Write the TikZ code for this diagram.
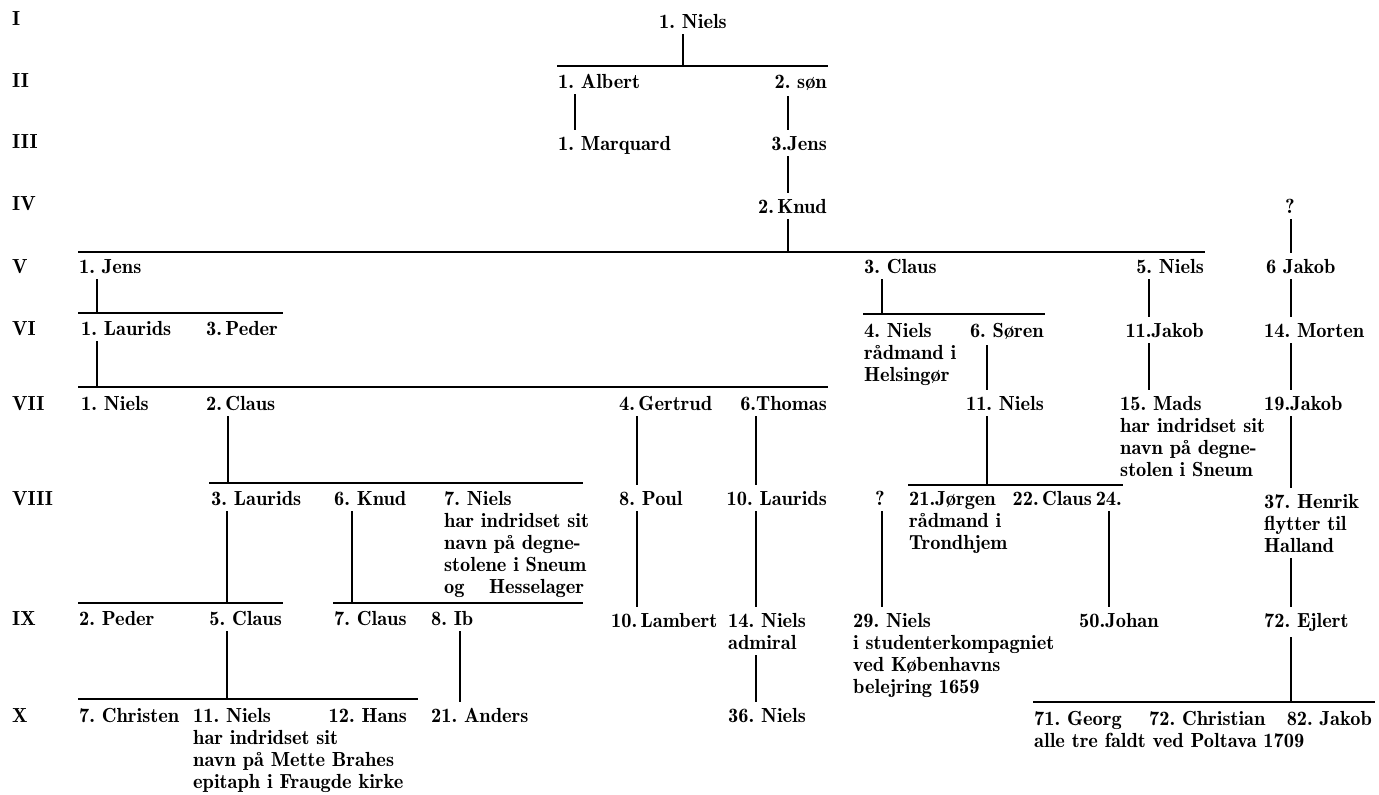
\documentclass[tikz,border=0pt]{standalone}
\usepackage{fontspec}
\setmainfont{lmromandemi10-regular.otf}
\newcommand\stack[1]{\vtop{\halign{##\hfil\cr#1\crcr}}}
\frenchspacing
\begin{document}
\begin{tikzpicture}[x=0.5pt,y=-0.5pt,line width=1.2pt,
		person/.style={anchor=base west,inner sep=0pt,outer ysep=3pt,font=\fontsize{10.2}{11}\selectfont},
		rperson/.style={person,anchor=base east},
		cperson/.style={person,anchor=base}]
		\useasboundingbox (0,0) rectangle (1379,794);
		\foreach \g/\y in {I/25,II/87,III/148,IV/210,V/273,VI/335,VII/410,VIII/505,IX/625,X/722}
			\node [person] (g\g) at (11,\y) {\g};
		\node [person] (niels1) at (658,28) {1. Niels};
		\node [person] (albert) at (557,88) {1. Albert};
		\node [rperson] (son) at (828,88) {2. søn};
		\node [person] (marquard) at (557,150) {1. Marquard};
		\node [rperson] (jens3) at (828,150) {3.Jens};
		\node [rperson] (knud2) at (828,213) {2.\,Knud};
		\node [cperson] (qa) at (1290,213) {?};
		\node [person] (jens1) at (78,273) {1. Jens};
		\node [person] (claus3) at (863,273) {3. Claus};
		\node [rperson] (niels5) at (1205,273) {5. Niels};
		\node [person] (jakob6) at (1265,273) {6 Jakob};
		\node [person] (laurids1) at (80,335) {1. Laurids};
		\node [person] (peder3) at (205,335) {3.\,Peder};
		\node [person] (niels4) at (863,337) {\stack{4. Niels\cr rådmand i\cr Helsingør}};
		\node [rperson] (soren6) at (1045,337) {6. Søren};
		\node [rperson] (jakob11) at (1205,337) {11.Jakob};
		\node [person] (morten14) at (1263,337) {14. Morten};
		\node [person] (niels1b) at (80,410) {1. Niels};
		\node [person] (claus2) at (205,410) {2.\,Claus};
		\node [person] (gertrud4) at (618,410) {4.\,Gertrud};
		\node [rperson] (thomas6) at (828,410) {6.Thomas};
		\node [rperson] (niels11) at (1045,410) {11. Niels};
		\node [person] (mads15) at (1119,410) {\stack{15. Mads\cr har indridset sit\cr navn på degne-\cr stolen i Sneum}};
		\node [person] (jakob19) at (1263,410) {19.Jakob};
		\node [person] (laurids3) at (210,505) {3. Laurids};
		\node [person] (knud6) at (333,505) {6. Knud};
		\node [person] (niels7) at (443,505) {\stack{7. Niels\cr har indridset sit\cr navn på degne-\cr stolene i Sneum\cr \makebox[70pt][l]{og\hfill Hesselager}}};
		\node [person] (poul8) at (618,505) {8. Poul};
		\node [rperson] (laurids10) at (828,505) {10. Laurids};
		\node [cperson] (qb) at (880,505) {?};
		\node [person] (jorgen21) at (908,505) {\stack{21.Jørgen\cr rådmand i\cr Trondhjem}};
		\node [rperson] (claus22) at (1093,505) {22.\,Claus};
		\node [rperson] (n24) at (1123,505) {24.};
		\node [person] (henrik37) at (1263,508) {\stack{37. Henrik\cr flytter til\cr Halland}};
		\node [person] (peder2) at (78,625) {2. Peder};
		\node [rperson] (claus5) at (283,625) {5. Claus};
		\node [person] (claus7) at (333,625) {7. Claus};
		\node [person] (ib8) at (430,625) {8. Ib};
		\node [person] (lambert10) at (610,627) {10.\,Lambert};
		\node [person] (niels14) at (727,627) {\stack{14. Niels\cr admiral}};
		\node [person] (niels29) at (852,627) {\stack{29. Niels\cr i studenterkompagniet\cr ved Københavns\cr belejring 1659}};
		\node [person] (johan50) at (1078,627) {50.Johan};
		\node [person] (ejlert72) at (1263,627) {72. Ejlert};
		\node [person] (christen7) at (78,722) {7. Christen};
		\node [person] (niels11b) at (192,722) {\stack{11. Niels\cr har indridset sit\cr navn på Mette Brahes\cr epitaph i Fraugde kirke}};
		\node [rperson] (hans12) at (408,722) {12. Hans};
		\node [person] (anders21) at (430,722) {21. Anders};
		\node [person] (niels36) at (727,722) {36. Niels};
		\node [person] (georg71) at (1033,725) {71. Georg};
		\node [person] (christian72) at (1148,725) {72. Christian};
		\node [rperson] (jakob82) at (1373,725) {82. Jakob};
		\node [person] (poltava) at (1033,747) {alle tre faldt ved Poltava 1709};
		\coordinate (barII) at (557,66);
		\coordinate (barV) at (78,252);
		\coordinate (barVIa) at (78,313);
		\coordinate (barVIb) at (863,314);
		\coordinate (barVII) at (78,387);
		\coordinate (barVIIIa) at (209,483);
		\coordinate (barVIIIb) at (908,485);
		\coordinate (barIXa) at (78,603);
		\coordinate (barIXb) at (333,603);
		\coordinate (barXa) at (78,699);
		\coordinate (barXb) at (1033,702);
		\draw (barII) -- (828,0 |- barII);
		\draw (barV) -- (1205,0 |- barV);
		\draw (barVIa) -- (283,0 |- barVIa);
		\draw (barVIb) -- (1045,0 |- barVIb);
		\draw (barVII) -- (828,0 |- barVII);
		\draw (barVIIIa) -- (583,0 |- barVIIIa);
		\draw (barVIIIb) -- (1123,0 |- barVIIIb);
		\draw (barIXa) -- (283,0 |- barIXa);
		\draw (barIXb) -- (583,0 |- barIXb);
		\draw (barXa) -- (418,0 |- barXa);
		\draw (barXb) -- (1375,0 |- barXb);
		\draw (niels1.south -| 683,0) -- (683,0 |- barII);
		\draw (knud2.south -| 788,0) -- (788,0 |- barV);
		\draw (jens1.south -| 97,0) -- (97,0 |- barVIa);
		\draw (claus3.south -| 882,0) -- (882,0 |- barVIb);
		\draw (laurids1.south -| 97,0) -- (97,0 |- barVII);
		\draw (claus2.south -| 228,0) -- (228,0 |- barVIIIa);
		\draw (niels11.south -| 987,0) -- (987,0 |- barVIIIb);
		\draw (laurids3.south -| 227,0) -- (227,0 |- barIXa);
		\draw (knud6.south -| 352,0) -- (352,0 |- barIXb);
		\draw (claus5.south -| 227,0) -- (227,0 |- barXa);
		\draw (ejlert72.south -| 1291,0) -- (1291,0 |- barXb);
		\draw (albert.south -| 575,0) -- (marquard.north -| 575,0);
		\draw (son.south -| 788,0) -- (jens3.north -| 788,0);
		\draw (jens3.south -| 788,0) -- (knud2.north -| 788,0);
		\draw (qa.south -| 1291,0) -- (jakob6.north -| 1291,0);
		\draw (jakob6.south -| 1291,0) -- (morten14.north -| 1291,0);
		\draw (niels5.south -| 1149,0) -- (jakob11.north -| 1149,0);
		\draw (soren6.south -| 987,0) -- (niels11.north -| 987,0);
		\draw (jakob11.south -| 1149,0) -- (mads15.north -| 1149,0);
		\draw (morten14.south -| 1291,0) -- (jakob19.north -| 1291,0);
		\draw (jakob19.south -| 1291,0) -- (henrik37.north -| 1291,0);
		\draw (gertrud4.south -| 637,0) -- (poul8.north -| 637,0);
		\draw (thomas6.south -| 756,0) -- (laurids10.north -| 756,0);
		\draw (poul8.south -| 637,0) -- (lambert10.north -| 637,0);
		\draw (laurids10.south -| 756,0) -- (niels14.north -| 756,0);
		\draw (qb.south -| 882,0) -- (niels29.north -| 882,0);
		\draw (n24.south -| 1109,0) -- (johan50.north -| 1109,0);
		\draw (henrik37.south -| 1291,0) -- (ejlert72.north -| 1291,0);
		\draw (ib8.south -| 460,0) -- (anders21.north -| 460,0);
		\draw (niels14.south -| 756,0) -- (niels36.north -| 756,0);
	\end{tikzpicture}
\end{document}
